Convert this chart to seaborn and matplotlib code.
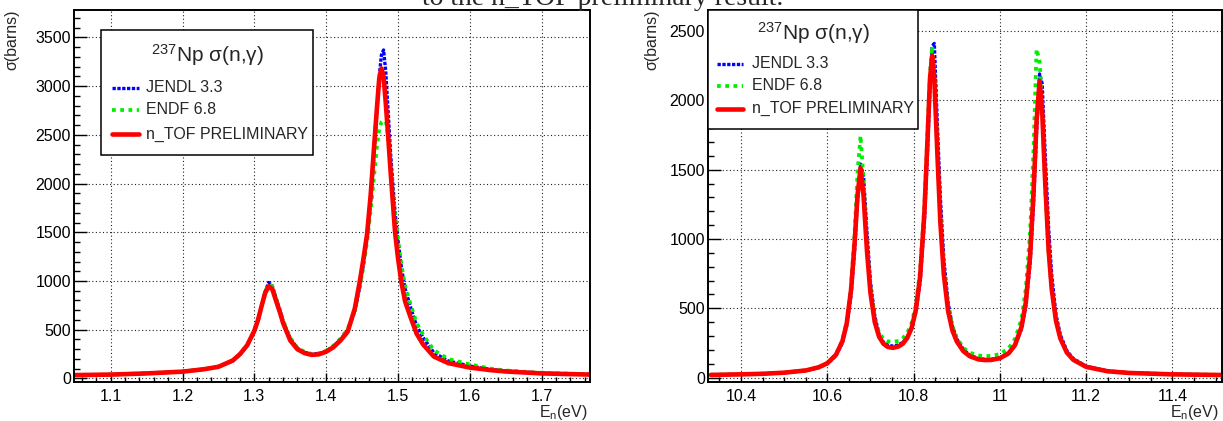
import matplotlib.pyplot as plt
import seaborn as sns
import pandas as pd
from matplotlib.lines import Line2D
from matplotlib.patches import Rectangle
from matplotlib.ticker import MultipleLocator, FormatStrFormatter

sns.set_theme(style="ticks")
plt.rcParams['font.family'] = ['Liberation Sans', 'DejaVu Sans']
plt.rcParams['mathtext.fontset'] = 'custom'
plt.rcParams['mathtext.rm'] = 'Liberation Sans'
plt.rcParams['mathtext.it'] = 'Liberation Sans'

W, H = 1223, 421

# --- left panel: 1.05 - 1.77 eV ---
energy_low = [1.05, 1.10, 1.15, 1.20, 1.23, 1.25, 1.27, 1.28, 1.29, 1.30, 1.305, 1.31,
              1.315, 1.32, 1.325, 1.33, 1.336, 1.34, 1.35, 1.36, 1.37, 1.38, 1.39, 1.40,
              1.41, 1.42, 1.43, 1.44, 1.447, 1.452, 1.457, 1.462, 1.467, 1.471, 1.474,
              1.477, 1.480, 1.483, 1.486, 1.490, 1.496, 1.500, 1.505, 1.51, 1.518, 1.526,
              1.535, 1.55, 1.57, 1.60, 1.63, 1.65, 1.70, 1.767]
jendl_low = [35, 40, 52, 70, 95, 120, 180, 245, 340, 480, 590, 740,
             890, 985, 950, 830, 690, 590, 410, 310, 268, 250, 255, 280,
             330, 400, 490, 690, 950, 1180, 1440, 1820, 2320, 2780, 3100,
             3320, 3370, 3150, 2780, 2280, 1700, 1420, 1130, 920, 720, 540,
             420, 265, 180, 128, 92, 78, 55, 42]
endf_low = [35, 40, 53, 72, 96, 122, 182, 248, 345, 485, 595, 745,
            885, 970, 945, 830, 695, 595, 415, 315, 272, 252, 258, 285,
            335, 410, 505, 700, 940, 1150, 1400, 1720, 2100, 2400, 2560,
            2630, 2650, 2640, 2500, 2150, 1680, 1420, 1160, 950, 750, 570,
            450, 290, 200, 145, 100, 82, 58, 43]
ntof_low = [35, 40, 52, 70, 95, 120, 185, 250, 340, 490, 598, 740,
            875, 946, 916, 803, 670, 570, 390, 300, 260, 242, 248, 275,
            320, 390, 480, 720, 1000, 1230, 1480, 1880, 2400, 2800, 3080,
            3180, 3100, 2830, 2530, 2100, 1500, 1240, 980, 790, 620, 460,
            350, 225, 158, 112, 85, 72, 52, 40]

# --- right panel: 10.32 - 11.51 eV ---
energy_high = [10.33, 10.40, 10.45, 10.50, 10.55, 10.58, 10.60, 10.62, 10.635, 10.645,
               10.655, 10.663, 10.67, 10.677, 10.684, 10.692, 10.70, 10.71, 10.72, 10.73,
               10.74, 10.752, 10.765, 10.775, 10.785, 10.795, 10.805, 10.815, 10.825,
               10.832, 10.838, 10.843, 10.848, 10.855, 10.862, 10.87, 10.88, 10.89,
               10.90, 10.915, 10.93, 10.95, 10.965, 10.98, 11.00, 11.02, 11.035, 11.05,
               11.06, 11.07, 11.078, 11.085, 11.092, 11.098, 11.105, 11.113, 11.12,
               11.13, 11.14, 11.155, 11.17, 11.20, 11.25, 11.30, 11.40, 11.52]
jendl_high = [20, 24, 28, 36, 51, 73, 100, 158, 252, 375,
              595, 905, 1275, 1540, 1450, 1045, 690, 445, 310, 255,
              235, 228, 236, 254, 290, 350, 470, 690, 1125,
              1610, 2080, 2390, 2410, 1830, 1300, 855, 540, 370,
              280, 205, 163, 138, 132, 132, 143, 175, 232, 350,
              515, 825, 1250, 1770, 2190, 2120, 1610, 1075, 745,
              455, 310, 195, 138, 82, 48, 35, 25, 19]
endf_high = [21, 25, 29, 37, 53, 76, 106, 168, 270, 405,
             660, 1030, 1480, 1745, 1420, 960, 650, 430, 325, 280,
             262, 258, 265, 285, 322, 390, 520, 770, 1240,
             1760, 2200, 2390, 2210, 1680, 1170, 790, 515, 370,
             290, 215, 180, 160, 155, 157, 170, 210, 280, 420,
             640, 1050, 1650, 2370, 2280, 1950, 1380, 900, 640,
             410, 285, 185, 132, 80, 47, 35, 25, 20]
ntof_high = [20, 24, 28, 36, 52, 75, 104, 165, 263, 392,
             633, 960, 1315, 1510, 1310, 910, 610, 400, 295, 245,
             222, 215, 225, 245, 285, 355, 485, 725, 1190,
             1700, 2155, 2320, 2155, 1620, 1120, 745, 480, 340,
             262, 192, 155, 132, 127, 128, 140, 175, 235, 365,
             540, 876, 1340, 1850, 2140, 1925, 1410, 918, 642,
             411, 284, 182, 129, 78, 46, 34, 24, 19]

series_names = ['JENDL 3.3', 'ENDF 6.8', 'n_TOF PRELIMINARY']
key_title = r'$^{237}$Np σ(n,γ)'
heading = 'to the n_TOF preliminary result.'

styles = [
    dict(color='#0000ff', lw=2.4, linestyle=(0, (1.0, 0.45))),
    dict(color='#00ee00', lw=2.7, linestyle=(0, (1.0, 1.2))),
    dict(color='#ff0000', lw=3.3, linestyle='-'),
]


def fx(px):
    return px / W


def fy(py):
    return 1 - py / H


def draw_key(fig, box, title_y, rows_y, line_x, text_x):
    x0, y0, x1, y1 = box
    fig.add_artist(Rectangle((fx(x0), fy(y1)), (x1 - x0) / W, (y1 - y0) / H,
                             transform=fig.transFigure, facecolor='white',
                             edgecolor='black', lw=1.1, zorder=10))
    fig.text(fx((x0 + x1) / 2), fy(title_y), key_title, fontsize=15,
             ha='center', va='center', zorder=11)
    for name, st, ry in zip(series_names, styles, rows_y):
        fig.add_artist(Line2D([fx(line_x[0]), fx(line_x[1])], [fy(ry), fy(ry)],
                              transform=fig.transFigure, zorder=11, **st))
        fig.text(fx(text_x), fy(ry), name, fontsize=11.5, ha='left',
                 va='center', zorder=11)


def panel(ax, energy, curves, xlim, ylim, xmajor, xminor, fmt, ylab_x):
    for vals, st in zip(curves, styles):
        df = pd.DataFrame({'E': energy, 'sigma': vals})
        sns.lineplot(data=df, x='E', y='sigma', ax=ax, sort=False,
                     estimator=None, **st)
    ax.set_xlim(*xlim)
    ax.set_ylim(*ylim)
    ax.xaxis.set_major_locator(MultipleLocator(xmajor))
    ax.xaxis.set_minor_locator(MultipleLocator(xminor))
    ax.xaxis.set_major_formatter(FormatStrFormatter(fmt))
    ax.yaxis.set_major_locator(MultipleLocator(500))
    ax.yaxis.set_minor_locator(MultipleLocator(100))
    ax.grid(True, which='major', color='#222222', lw=0.8, linestyle=(0, (1, 2.2)))
    ax.tick_params(which='both', direction='in', top=False, right=False,
                   labelsize=11.5, colors='black', width=1)
    ax.tick_params(axis='x', which='major', length=6.5, pad=5)
    ax.tick_params(axis='x', which='minor', length=3.5)
    ax.tick_params(axis='y', which='major', length=9.5, pad=2)
    ax.tick_params(axis='y', which='minor', length=4.5)
    for sp in ax.spines.values():
        sp.set_color('black')
        sp.set_linewidth(1.4)
    ax.set_xlabel(r'E$_{\mathrm{n}}$(eV)', fontsize=11.5, loc='right')
    ax.set_ylabel('σ(barns)', fontsize=11.5, loc='top')
    ax.xaxis.set_label_coords(0.995, -0.058)
    ax.yaxis.set_label_coords(ylab_x, 1.0)
    ax.set_facecolor('white')


fig = plt.figure(figsize=(W / 100, H / 100), dpi=100)
fig.patch.set_facecolor('white')

ax1 = fig.add_axes([fx(73.9), fy(381.7), (590 - 73.9) / W, (381.7 - 10) / H])
ax2 = fig.add_axes([fx(707.7), fy(381.7), (1221.5 - 707.7) / W, (381.7 - 10) / H])

panel(ax1, energy_low, [jendl_low, endf_low, ntof_low], (1.0487, 1.7675), (-33, 3780),
      0.1, 0.02, '%g', -0.106)
panel(ax2, energy_high, [jendl_high, endf_high, ntof_high], (10.3227, 11.5137), (-29, 2651),
      0.2, 0.05, '%g', -0.095)

draw_key(fig, (101, 30, 313, 155), 55, (88, 110, 134), (112, 139), 146)
draw_key(fig, (708.3, 10.5, 918.3, 129.3), 33, (64, 85.5, 108.5), (717, 743), 752)

# heading of the slide, cut at the top edge as in the source image
fig.text(0.493, fy(5), heading, fontsize=20, ha='center', va='baseline',
         family=['Liberation Serif', 'DejaVu Serif'])

fig.savefig('out.png', dpi=100, facecolor='white')
